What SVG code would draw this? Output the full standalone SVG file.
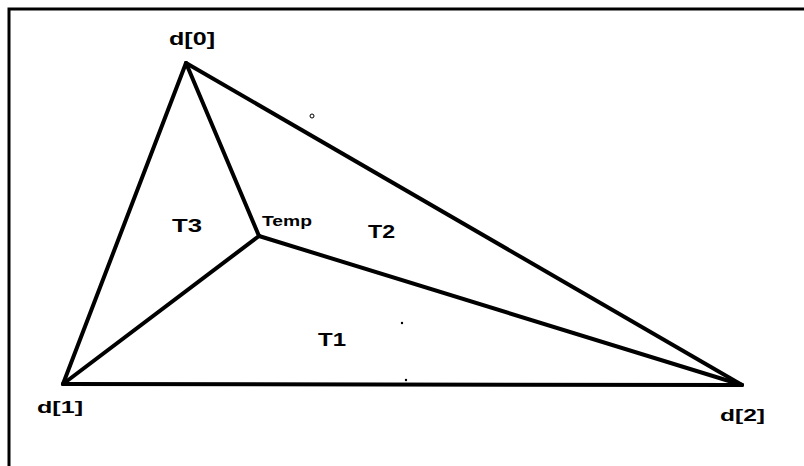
<svg xmlns="http://www.w3.org/2000/svg" width="804" height="466" viewBox="0 0 804 466">
<style>
.edge{stroke:#000;stroke-width:4;fill:none;stroke-linecap:round;stroke-linejoin:round}
.lbl{font-family:"Liberation Sans",Arial,sans-serif;font-weight:bold;fill:#000}
.frame{stroke:#000;stroke-width:3;fill:none}
</style>
<rect width="804" height="466" fill="#fff"/>
<path class="frame" d="M9,466 V9 H804"/>
<g id="connectors">
<line class="edge" x1="186" y1="63" x2="63" y2="384"/>
<line class="edge" x1="186" y1="63" x2="742" y2="385"/>
<line class="edge" x1="63" y1="384" x2="742" y2="385" stroke-width="3"/>
<line class="edge" x1="186" y1="63" x2="259" y2="236"/>
<line class="edge" x1="63" y1="384" x2="259" y2="236"/>
<line class="edge" x1="259" y1="236" x2="742" y2="385"/>
</g>
<g id="d0"><text class="lbl" x="169" y="45" font-size="18" textLength="46" lengthAdjust="spacingAndGlyphs">d[0]</text></g>
<g id="d1"><text class="lbl" x="37" y="413" font-size="17" textLength="46" lengthAdjust="spacingAndGlyphs">d[1]</text></g>
<g id="d2"><text class="lbl" x="720" y="421" font-size="17" textLength="45" lengthAdjust="spacingAndGlyphs">d[2]</text></g>
<g id="temp"><text class="lbl" x="262" y="226" font-size="14" textLength="50" lengthAdjust="spacingAndGlyphs">Temp</text></g>
<g id="T1"><text class="lbl" x="318" y="346" font-size="18" textLength="28" lengthAdjust="spacingAndGlyphs">T1</text></g>
<g id="T2"><text class="lbl" x="368" y="238" font-size="18" textLength="27" lengthAdjust="spacingAndGlyphs">T2</text></g>
<g id="T3"><text class="lbl" x="172" y="232" font-size="18" textLength="30" lengthAdjust="spacingAndGlyphs">T3</text></g>
<circle cx="312" cy="116" r="2" fill="none" stroke="#000" stroke-width="1"/>
<circle cx="402" cy="323" r="1.2" fill="#000"/>
<circle cx="406" cy="380" r="1.2" fill="#000"/>
</svg>
